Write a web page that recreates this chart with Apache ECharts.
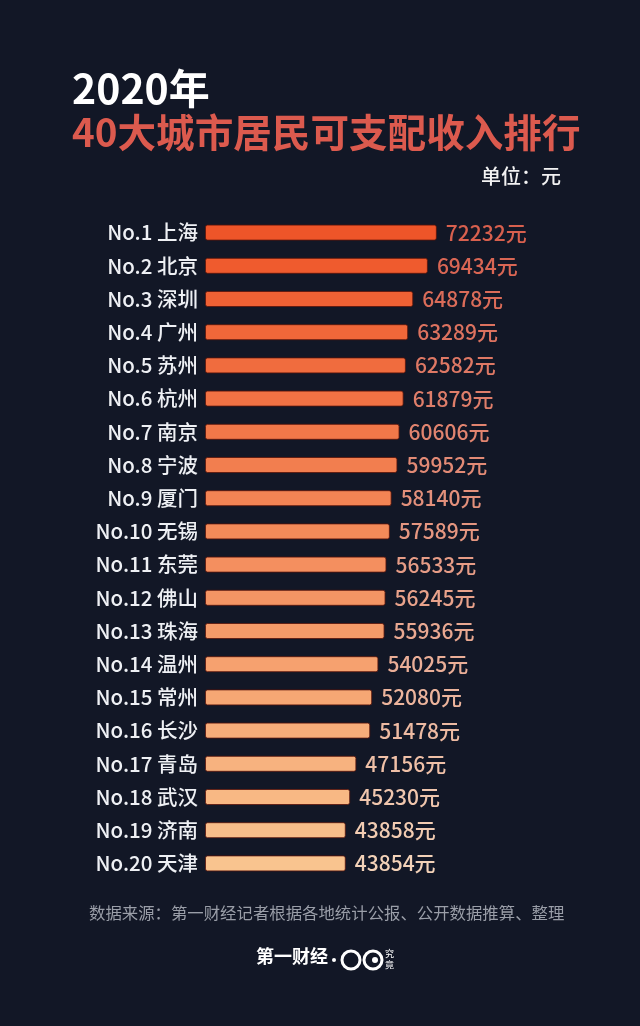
<!DOCTYPE html>
<html>
<head>
<meta charset="utf-8">
<script src="https://cdn.jsdelivr.net/npm/echarts@6/dist/echarts.min.js"></script>
<style>
html,body{margin:0;padding:0;background:#121726;}
#main{width:640px;height:1026px;}
</style>
</head>
<body>
<div id="main"></div>
<script>
const titleYear = '2020年';
const titleMain = '40大城市居民可支配收入排行';
const unitText = '单位：元';
const sourceText = '数据来源：第一财经记者根据各地统计公报、公开数据推算、整理';
const ranks = ['No.1','No.2','No.3','No.4','No.5','No.6','No.7','No.8','No.9','No.10',
  'No.11','No.12','No.13','No.14','No.15','No.16','No.17','No.18','No.19','No.20'];
const cities = ['上海','北京','深圳','广州','苏州','杭州','南京','宁波','厦门','无锡',
  '东莞','佛山','珠海','温州','常州','长沙','青岛','武汉','济南','天津'];
const values = [72232,69434,64878,63289,62582,61879,60606,59952,58140,57589,
  56533,56245,55936,54025,52080,51478,47156,45230,43858,43854];

function hex(c){return [parseInt(c.slice(1,3),16),parseInt(c.slice(3,5),16),parseInt(c.slice(5,7),16)];}
function mix(a,b,t){const A=hex(a),B=hex(b);return 'rgb('+A.map((v,i)=>Math.round(v+(B[i]-v)*t)).join(',')+')';}
const n = cities.length;
const barColors = cities.map((_,i)=>mix('#ee5529','#f9c48f',i/(n-1)));
const labelColors = cities.map((_,i)=>mix('#d8604e','#f3d2b8',i/(n-1)));
const FONT = '"Noto Sans CJK SC","Noto Sans",sans-serif';

const chart = echarts.init(document.getElementById('main'));
chart.setOption({
  backgroundColor:'#121726',
  animation:false,
  grid:{left:205,right:114,top:216,bottom:146},
  xAxis:{type:'value',min:0,max:100000,show:false},
  yAxis:{
    type:'category',inverse:true,data:cities,
    axisLine:{show:false},axisTick:{show:false},splitLine:{show:false},
    axisLabel:{
      color:'#eef0f4',fontSize:20.5,fontWeight:500,fontFamily:FONT,margin:7,
      formatter:(v,i)=>ranks[i]+' '+v
    }
  },
  series:[{
    type:'bar',barWidth:16,
    data:values.map((v,i)=>({value:v,itemStyle:{color:barColors[i]},label:{color:labelColors[i]}})),
    itemStyle:{borderColor:'rgba(90,20,10,0.8)',borderWidth:1,borderRadius:2},
    label:{show:true,position:'right',distance:9,fontSize:21,fontWeight:500,fontFamily:FONT,formatter:p=>p.value+'元'}
  }],
  graphic:[
    {type:'text',left:72,top:68,style:{text:titleYear,fill:'#ffffff',font:'bold 41px '+FONT}},
    {type:'text',left:72,top:113,style:{text:titleMain,fill:'#dc5a4e',font:'bold 38.6px '+FONT}},
    {type:'text',left:481,top:166,style:{text:unitText,fill:'#f2f2f2',font:'500 20px '+FONT}},
    {type:'text',left:89,top:905,style:{text:sourceText,fill:'#9a9ea8',font:'16.4px '+FONT}},
    {type:'text',left:256,top:947,style:{text:'第一财经',fill:'#ffffff',font:'bold 18px '+FONT}},
    {type:'circle',shape:{cx:334,cy:960,r:2},style:{fill:'#ffffff'}},
    {type:'circle',shape:{cx:351,cy:960,r:9},style:{fill:'none',stroke:'#ffffff',lineWidth:3}},
    {type:'circle',shape:{cx:373,cy:960,r:9},style:{fill:'none',stroke:'#ffffff',lineWidth:3}},
    {type:'circle',shape:{cx:375,cy:960,r:3},style:{fill:'#ffffff'}},
    {type:'text',left:385,top:948,style:{text:'究\n竟',fill:'#ffffff',font:'9px '+FONT,lineHeight:11}}
  ]
});
</script>
</body>
</html>
